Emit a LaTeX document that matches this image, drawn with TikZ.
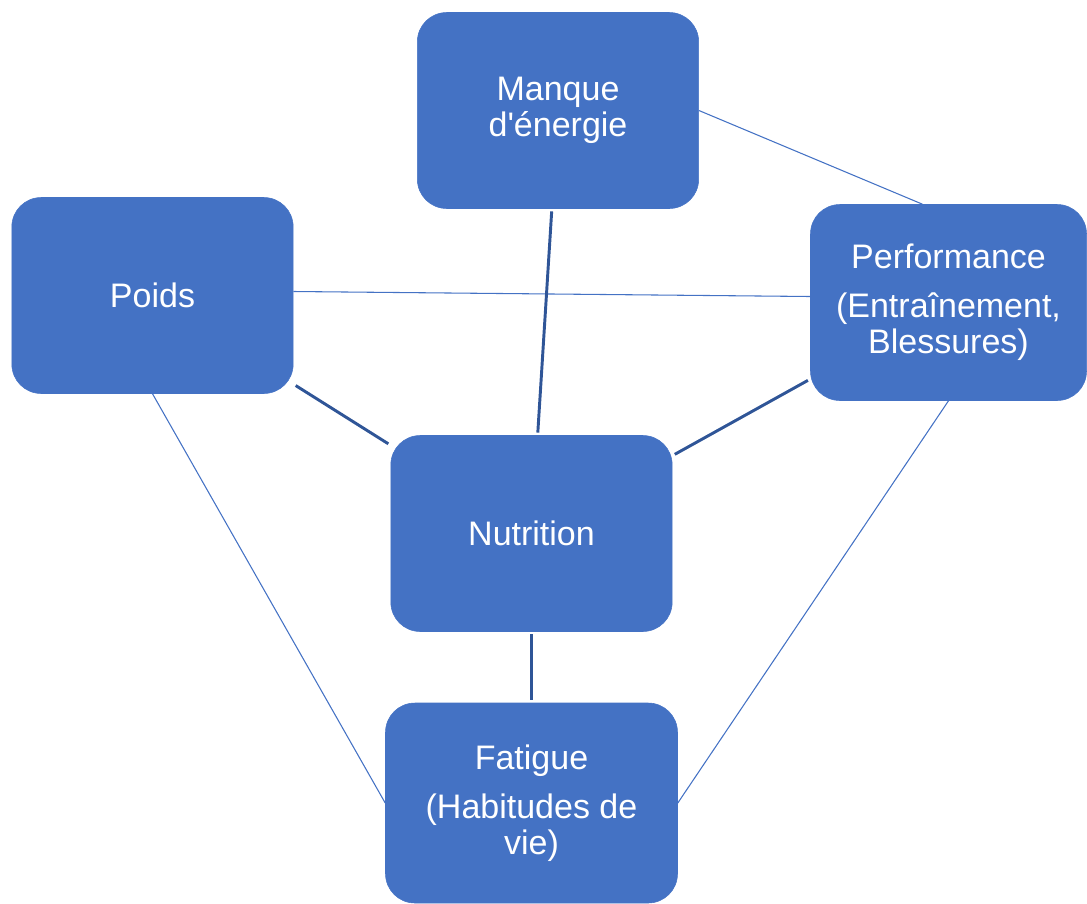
\documentclass[tikz,border=0pt]{standalone}
\usepackage{fontspec}
\setmainfont{Liberation Sans}
\usepackage{tikz}

\definecolor{boxblue}{HTML}{4472C4}
\definecolor{linkdark}{HTML}{2F5597}

\begin{document}
\begin{tikzpicture}[
            x=0.75pt, y=-0.75pt,
            topic/.style={
                fill=boxblue,
                draw=boxblue,
                rounded corners=22pt,
                minimum width=211pt,
                minimum height=147pt,
                align=center,
                inner sep=1pt,
                text=white,
                font=\fontsize{25.5}{27}\selectfont
            },
            strong/.style={
                draw=linkdark,
                line width=2.2pt,
                shorten <=2pt,
                shorten >=2pt
            },
            weak/.style={
                draw=boxblue,
                line width=0.8pt
            }
        ]
            \useasboundingbox (0,0) rectangle (1087,903);
            \node[topic] (energie) at (558,110.5) {Manque\\d\textquotesingle énergie};
            \node[topic] (poids) at (152.5,295.5) {Poids};
            \node[topic, minimum width=207pt] (perf) at (948.5,302.5) {Performance\\[10pt](Entraînement,\\Blessures)};
            \node[topic] (nutri) at (531.5,533.5) {Nutrition};
            \node[topic, minimum width=219pt, minimum height=150pt] (fatigue) at (531.5,803) {Fatigue\\[10pt](Habitudes de\\vie)};

            \draw[weak] (energie.east) -- ([xshift=-19.5pt]perf.north);
            \draw[weak] ([yshift=3pt]poids.east) -- ([yshift=4.5pt]perf.west);
            \draw[weak] (poids.south) -- (fatigue.west);
            \draw[weak] (perf.south) -- (fatigue.east);

            \draw[strong] (poids) -- (nutri);
            \draw[strong] (energie) -- (nutri);
            \draw[strong] (perf) -- (nutri);
            \draw[strong] (nutri) -- (fatigue);
        \end{tikzpicture}
\end{document}
